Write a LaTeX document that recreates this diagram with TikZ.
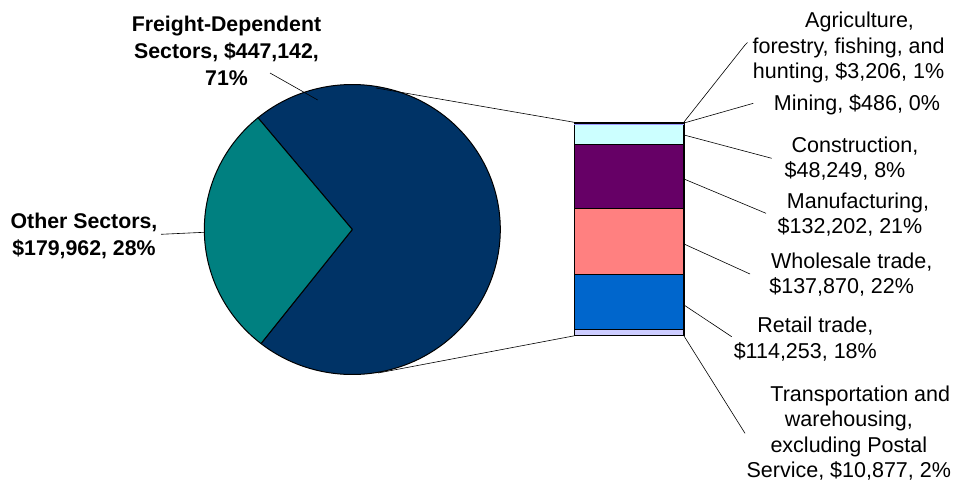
\documentclass[tikz,border=0pt]{standalone}
\usepackage{fontspec}
\setmainfont{Liberation Sans}
\definecolor{navy}{HTML}{003366}
\definecolor{tealc}{HTML}{008080}
\definecolor{agcol}{HTML}{FFFFCC}
\definecolor{mincol}{HTML}{9999FF}
\definecolor{concol}{HTML}{CCFFFF}
\definecolor{mancol}{HTML}{660066}
\definecolor{whocol}{HTML}{FF8080}
\definecolor{retcol}{HTML}{0066CC}
\definecolor{tracol}{HTML}{CCCCFF}
\begin{document}
\begin{tikzpicture}[x=1pt,y=-1pt,
  lbl/.style={inner sep=0pt, align=center, font=\fontsize{21.5}{25.5}\selectfont},
  blbl/.style={inner sep=0pt, align=center, font=\fontsize{21.3}{27}\selectfont\bfseries},
  leader/.style={draw=black, line width=0.6pt},
  wedge/.style={draw=black, line width=1pt, line join=round},
  seg/.style={draw=black, line width=1.1pt}]
\useasboundingbox (0,0) rectangle (957,482);
% pie
\coordinate (c) at (352.3,229.5);
\filldraw[wedge, fill=navy] (c) -- ++(129.6:148pt and 145pt)
  arc[start angle=129.6, end angle=-128.1, x radius=148pt, y radius=145pt] -- cycle;
\filldraw[wedge, fill=tealc] (c) -- ++(129.6:148pt and 145pt)
  arc[start angle=129.6, end angle=231.9, x radius=148pt, y radius=145pt] -- cycle;
% bar
\filldraw[seg, fill=concol] (574.3,123.9) rectangle (684,144.5);
\filldraw[seg, fill=mancol] (574.3,144.5) rectangle (684,208.7);
\filldraw[seg, fill=whocol] (574.3,208.7) rectangle (684,274.3);
\filldraw[seg, fill=retcol] (574.3,274.3) rectangle (684,329.3);
\filldraw[seg, fill=tracol] (574.3,329.3) rectangle (684,335.8);
\filldraw[seg, fill=mincol] (574.3,123.6) rectangle (684,123.9);
\filldraw[seg, fill=agcol] (574.3,122.3) rectangle (684,123.6);
% coordinates
\coordinate (bartl) at (574.3,122.3);
\coordinate (barbl) at (574.3,335.8);
\coordinate (pietop) at (376,88);
\coordinate (piebot) at (378,373);
\coordinate (agA) at (684,122);
\coordinate (agB) at (745,45);
\coordinate (agC) at (747.5,42.5);
\coordinate (minA) at (684,123);
\coordinate (minB) at (753.3,103.3);
\coordinate (conA) at (684,135);
\coordinate (conB) at (771.7,158.3);
\coordinate (manA) at (684,179);
\coordinate (manB) at (766,213.3);
\coordinate (whoA) at (684,244);
\coordinate (whoB) at (750,274);
\coordinate (retA) at (684,305);
\coordinate (retB) at (731.7,336.7);
\coordinate (traA) at (684,336);
\coordinate (traB) at (745,433.3);
\coordinate (fdA) at (270,73);
\coordinate (fdB) at (317.7,100);
\coordinate (otA) at (161,234.3);
\coordinate (otB) at (204,232.3);
% labels
\node[blbl] (fd) at (226.5,51) {Freight-Dependent\\Sectors, \$447,142,\\71\%};
\node[blbl] (ot) at (84,235.5) {Other Sectors,\\\$179,962, 28\%};
\node[lbl] (ag) at (848.6,47.5) {Agriculture,\hspace*{-22pt}\\forestry, fishing, and\\hunting, \$3,206, 1\%};
\node[lbl] (min) at (857,105) {Mining, \$486, 0\%};
\node[lbl] (con) at (845,158.5) {Construction,\hspace*{-20pt}\\\$48,249, 8\%};
\node[lbl] (man) at (850,214.5) {Manufacturing,\hspace*{-16pt}\\\$132,202, 21\%};
\node[lbl] (who) at (841.7,274.5) {Wholesale trade,\hspace*{-20pt}\\\$137,870, 22\%};
\node[lbl] (ret) at (805.3,339) {Retail trade,\hspace*{-20pt}\\\$114,253, 18\%};
\node[lbl] (tra) at (848.8,433.3) {Transportation and\hspace*{-23pt}\\warehousing,\hspace*{-6pt}\\excluding Postal\hspace*{-22pt}\\Service, \$10,877, 2\%};
% leaders
\draw[leader] (pietop) -- (bartl);
\draw[leader] (piebot) -- (barbl);
\draw[leader] (fdA) -- (fdB);
\draw[leader] (otA) -- (otB);
\draw[leader] (agA) -- (agB) -- (agC);
\draw[leader] (minA) -- (minB);
\draw[leader] (conA) -- (conB);
\draw[leader] (manA) -- (manB);
\draw[leader] (whoA) -- (whoB);
\draw[leader] (retA) -- (retB);
\draw[leader] (traA) -- (traB);
\end{tikzpicture}
\end{document}
